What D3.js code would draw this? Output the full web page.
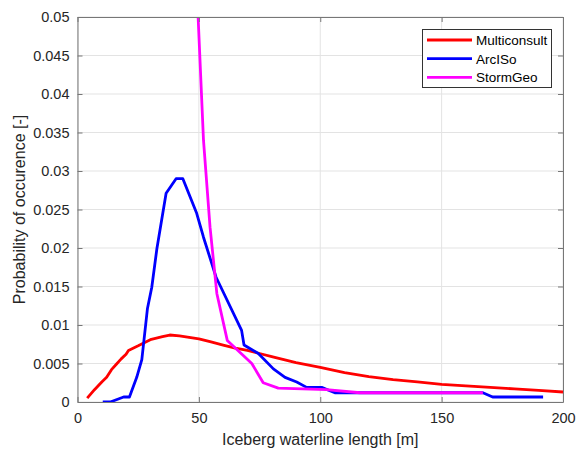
<!DOCTYPE html>
<html><head><meta charset="utf-8">
<script src="https://cdn.jsdelivr.net/npm/d3@7"></script>
<style>body{margin:0;background:#fff;} text{font-family:"Liberation Sans",Arial,sans-serif;}</style>
</head><body>
<svg id="c" width="578" height="450"></svg>
<script>
const xTicks = [0, 50, 100, 150, 200];
const yTicks = [0, 0.005, 0.01, 0.015, 0.02, 0.025, 0.03, 0.035, 0.04, 0.045, 0.05];
const yTickLabels = ["0","0.005","0.01","0.015","0.02","0.025","0.03","0.035","0.04","0.045","0.05"];
const seriesNames = ["Multiconsult", "ArcISo", "StormGeo"];
const seriesColors = ["#ff0000", "#0000ff", "#ff00ff"];

const multiconsultX = [4, 7, 10, 12, 14, 16, 18, 20, 21, 25, 30, 35, 38, 42, 50, 55, 60, 65, 70, 75, 80, 85, 90, 100, 110, 120, 130, 140, 150, 160, 170, 180, 190, 200];
const multiconsultY = [0.0005, 0.0016, 0.0026, 0.0032, 0.0042, 0.0049, 0.0056, 0.0062, 0.0067, 0.0073, 0.0081, 0.0085, 0.0087, 0.0086, 0.0082, 0.0078, 0.0074, 0.0070, 0.0067, 0.0063, 0.0059, 0.0055, 0.0051, 0.0045, 0.0038, 0.0033, 0.0029, 0.0026, 0.0023, 0.0021, 0.0019, 0.0017, 0.0015, 0.0013];

const arcisoX = [10.4, 13.5, 19, 21.4, 24.4, 26.5, 28.8, 30.6, 32.7, 36.5, 40.6, 43.4, 49.1, 51.9, 57.1, 67.6, 68.6, 74.5, 80.7, 85.5, 90.3, 94.4, 100.6, 106, 167, 171, 191.8];
const arcisoY = [0, 0, 0.00065, 0.00065, 0.0032, 0.0055, 0.0121, 0.0149, 0.0199, 0.0271, 0.029, 0.029, 0.0245, 0.0214, 0.0162, 0.0093, 0.0074, 0.0063, 0.0043, 0.0032, 0.0026, 0.0019, 0.0019, 0.0012, 0.0012, 0.00065, 0.00065];

const stormgeoX = [49.2, 51.9, 54.6, 57.4, 61.7, 71.8, 76.5, 82.7, 102.6, 116.3, 167];
const stormgeoY = [0.0535, 0.034, 0.0227, 0.0141, 0.008, 0.005, 0.0025, 0.0018, 0.0016, 0.0012, 0.0012];

const svg = d3.select("#c");
const m = {l: 77.5, r: 563, t: 17, b: 402};
const x = d3.scaleLinear().domain([0, 200]).range([m.l, m.r]);
const y = d3.scaleLinear().domain([0, 0.05]).range([m.b, m.t]);

// grid
svg.append("g").selectAll("line.gx").data(xTicks).join("line")
  .attr("x1", d => x(d)).attr("x2", d => x(d)).attr("y1", m.t).attr("y2", m.b)
  .attr("stroke", "#e3e3e3").attr("stroke-width", 1);
svg.append("g").selectAll("line.gy").data(yTicks).join("line")
  .attr("x1", m.l).attr("x2", m.r).attr("y1", d => y(d)).attr("y2", d => y(d))
  .attr("stroke", "#e3e3e3").attr("stroke-width", 1);

// clip
svg.append("clipPath").attr("id", "clip").append("rect")
  .attr("x", m.l).attr("y", m.t).attr("width", m.r - m.l).attr("height", m.b - m.t);

const line = d3.line().x(d => x(d[0])).y(d => y(d[1]));
const data = [
  d3.zip(multiconsultX, multiconsultY),
  d3.zip(arcisoX, arcisoY),
  d3.zip(stormgeoX, stormgeoY)
];
const gl = svg.append("g").attr("clip-path", "url(#clip)");
data.forEach((d, i) => {
  gl.append("path").datum(d).attr("d", line).attr("fill", "none")
    .attr("stroke", seriesColors[i]).attr("stroke-width", 2.8).attr("stroke-linejoin", "round");
});

// axes
const axCol = "#777";
const xb = svg.append("g").attr("transform", `translate(0,${m.b})`)
  .call(d3.axisBottom(x).tickValues(xTicks).tickSizeInner(-5).tickSizeOuter(0).tickPadding(11));
const xt = svg.append("g").attr("transform", `translate(0,${m.t})`)
  .call(d3.axisTop(x).tickValues(xTicks).tickSizeInner(-5).tickSizeOuter(0).tickFormat(""));
const yl = svg.append("g").attr("transform", `translate(${m.l},0)`)
  .call(d3.axisLeft(y).tickValues(yTicks).tickFormat((d, i) => yTickLabels[i]).tickSizeInner(-5).tickSizeOuter(0).tickPadding(8));
const yr = svg.append("g").attr("transform", `translate(${m.r},0)`)
  .call(d3.axisRight(y).tickValues(yTicks).tickSizeInner(-5).tickSizeOuter(0).tickFormat(""));
[xb, xt, yl, yr].forEach(g => {
  g.select(".domain").attr("stroke", axCol).attr("stroke-width", 1);
  g.selectAll(".tick line").attr("stroke", axCol);
  g.selectAll("text").attr("fill", "#262626").style("font-size", "14.5px").style("font-family", "Liberation Sans, Arial, sans-serif");
});

// labels
svg.append("text").attr("x", (m.l + m.r) / 2).attr("y", 445).attr("text-anchor", "middle")
  .attr("fill", "#262626").style("font-size", "16px").text("Iceberg waterline length [m]");
svg.append("text").attr("transform", `translate(25,${(m.t + m.b) / 2}) rotate(-90)`).attr("text-anchor", "middle")
  .attr("fill", "#262626").style("font-size", "16px").text("Probability of occurence [-]");

// legend
const lg = svg.append("g");
lg.append("rect").attr("x", 422.5).attr("y", 29.5).attr("width", 129).attr("height", 58)
  .attr("fill", "#fff").attr("stroke", "#333").attr("stroke-width", 1);
seriesNames.forEach((n, i) => {
  const yy = 40 + i * 18.7;
  lg.append("line").attr("x1", 427).attr("x2", 472).attr("y1", yy).attr("y2", yy)
    .attr("stroke", seriesColors[i]).attr("stroke-width", 2.8);
  lg.append("text").attr("x", 476).attr("y", yy + 5).attr("fill", "#000")
    .style("font-size", "13.5px").text(n);
});
</script>
</body></html>
